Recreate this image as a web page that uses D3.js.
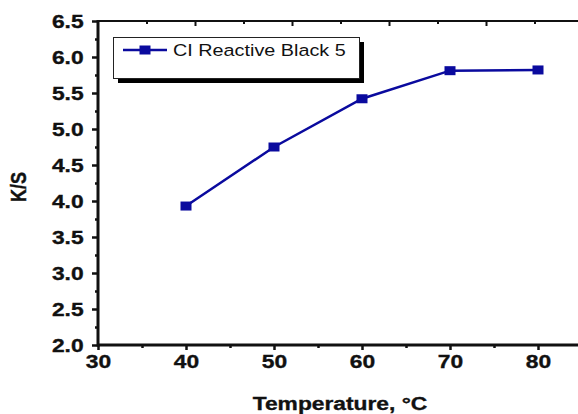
<!DOCTYPE html>
<html>
<head>
<meta charset="utf-8">
<script src="https://cdn.jsdelivr.net/npm/d3@7"></script>
<style>
  body { margin: 0; background: #fff; }
  svg { display: block; }
  text { font-family: Arial, 'Liberation Sans', sans-serif; fill: #111; }
  .heavy { font-weight: bold; stroke: #111; stroke-width: 0.35px; }
</style>
</head>
<body>
<script>
// data
var temps = [40, 50, 60, 70, 80];
var ksValues = [3.93, 4.75, 5.42, 5.81, 5.82];
var seriesName = 'CI Reactive Black 5';
var yTicks = [2.0, 2.5, 3.0, 3.5, 4.0, 4.5, 5.0, 5.5, 6.0, 6.5];
var yMinor = [2.25, 2.75, 3.25, 3.75, 4.25, 4.75, 5.25, 5.75, 6.25];
var xTicks = [30, 40, 50, 60, 70, 80];
var xMinor = [35, 45, 55, 65, 75];

var width  = 578,
    height = 414;

// note: "top" is taken by window.top, so use other names
var plotLeft   = 98,
    plotTop    = 21,
    plotBottom = 345;

var stretch = 1.2; // the picture is stretched sideways
var blue = '#0a0a9e';

var svg = d3.select('body').append('svg')
    .attr('width', width)
    .attr('height', height);

var x = d3.scaleLinear().domain([30, 85]).range([plotLeft, plotLeft + 8.8 * 55]);
var xTop = d3.scaleLinear().domain([30, 85]).range([plotLeft, plotLeft + 9.7 * 55]);
var y = d3.scaleLinear().domain([2.0, 6.5]).range([plotBottom, plotTop]);

// top frame line with its own ticks
svg.append('g')
    .attr('transform', 'translate(0,' + plotTop + ')')
    .call(d3.axisBottom(xTop).tickValues([40, 50, 60, 70, 80]).tickSize(5).tickFormat(''))
    .call(function(g) { g.select('.domain').remove(); })
    .call(function(g) { g.selectAll('line').attr('stroke', '#111').attr('stroke-width', 2); });
svg.append('g')
    .attr('transform', 'translate(0,' + plotTop + ')')
    .call(d3.axisBottom(xTop).tickValues([35, 45, 55, 65, 75]).tickSize(3).tickFormat(''))
    .call(function(g) { g.select('.domain').remove(); })
    .call(function(g) { g.selectAll('line').attr('stroke', '#111').attr('stroke-width', 2); });
svg.append('line')
    .attr('x1', plotLeft).attr('x2', width)
    .attr('y1', plotTop).attr('y2', plotTop)
    .attr('stroke', '#111').attr('stroke-width', 2);

// left axis
var yAxis = svg.append('g')
    .attr('transform', 'translate(' + plotLeft + ',0)')
    .call(d3.axisLeft(y).tickValues(yTicks).tickSize(6).tickPadding(6).tickFormat(d3.format('.1f')));
yAxis.select('.domain').remove();
yAxis.selectAll('line').attr('stroke', '#111').attr('stroke-width', 2.5);
yAxis.selectAll('text')
    .attr('class', 'heavy')
    .attr('transform', 'scale(' + stretch + ',1)')
    .attr('dy', '0.36em')
    .style('font-size', '19px');

var yMinorAxis = svg.append('g')
    .attr('transform', 'translate(' + plotLeft + ',0)')
    .call(d3.axisLeft(y).tickValues(yMinor).tickSize(3).tickFormat(''));
yMinorAxis.select('.domain').remove();
yMinorAxis.selectAll('line').attr('stroke', '#111').attr('stroke-width', 2.5);

// bottom axis
var xAxis = svg.append('g')
    .attr('transform', 'translate(0,' + plotBottom + ')')
    .call(d3.axisBottom(x).tickValues(xTicks).tickSize(5).tickPadding(5).tickFormat(d3.format('d')));
xAxis.select('.domain').remove();
xAxis.selectAll('line').attr('stroke', '#111').attr('stroke-width', 2.5);
xAxis.selectAll('text')
    .attr('class', 'heavy')
    .attr('transform', 'scale(' + stretch + ',1)')
    .style('font-size', '19px');

var xMinorAxis = svg.append('g')
    .attr('transform', 'translate(0,' + plotBottom + ')')
    .call(d3.axisBottom(x).tickValues(xMinor).tickSize(3).tickFormat(''));
xMinorAxis.select('.domain').remove();
xMinorAxis.selectAll('line').attr('stroke', '#111').attr('stroke-width', 2.5);

svg.append('line')
    .attr('x1', plotLeft).attr('x2', width)
    .attr('y1', plotBottom).attr('y2', plotBottom)
    .attr('stroke', '#111').attr('stroke-width', 3);
svg.append('line')
    .attr('x1', plotLeft).attr('x2', plotLeft)
    .attr('y1', plotTop - 1).attr('y2', plotBottom + 1.5)
    .attr('stroke', '#111').attr('stroke-width', 3);

// axis titles
svg.append('text')
    .attr('class', 'heavy')
    .attr('transform', 'translate(' + 340 + ',' + 410 + ') scale(' + stretch + ',1)')
    .attr('text-anchor', 'middle')
    .style('font-size', '19px')
    .text('Temperature, \u00B0C');

svg.append('text')
    .attr('class', 'heavy')
    .attr('transform', 'translate(' + 26 + ',' + 187 + ') rotate(-90) scale(1,' + stretch + ')')
    .attr('text-anchor', 'middle')
    .style('font-size', '18px')
    .text('K/S');

// series
var data = temps.map(function(t, i) { return {t: t, v: ksValues[i]}; });

var line = d3.line()
    .x(function(d) { return x(d.t); })
    .y(function(d) { return y(d.v); });

svg.append('path')
    .datum(data)
    .attr('d', line)
    .attr('fill', 'none')
    .attr('stroke', blue)
    .attr('stroke-width', 2.5);

svg.selectAll('rect.pt')
    .data(data)
  .enter().append('rect')
    .attr('class', 'pt')
    .attr('x', function(d) { return x(d.t) - 5.5; })
    .attr('y', function(d) { return y(d.v) - 4.5; })
    .attr('width', 11)
    .attr('height', 9)
    .attr('fill', blue);

// legend
var legend = svg.append('g');
legend.append('rect')
    .attr('x', 118).attr('y', 42)
    .attr('width', 246).attr('height', 41)
    .attr('fill', '#000');
legend.append('rect')
    .attr('x', 113.5).attr('y', 37.5)
    .attr('width', 246).attr('height', 41)
    .attr('fill', '#fff')
    .attr('stroke', '#222')
    .attr('stroke-width', 1);
legend.append('line')
    .attr('x1', 123).attr('x2', 167)
    .attr('y1', 50).attr('y2', 50)
    .attr('stroke', blue)
    .attr('stroke-width', 2.5);
legend.append('rect')
    .attr('x', 145 - 5.5).attr('y', 50 - 4.5)
    .attr('width', 11).attr('height', 9)
    .attr('fill', blue);
legend.append('text')
    .attr('transform', 'translate(173,56) scale(' + stretch + ',1)')
    .style('font-size', '16.5px')
    .text(seriesName);
</script>
</body>
</html>
